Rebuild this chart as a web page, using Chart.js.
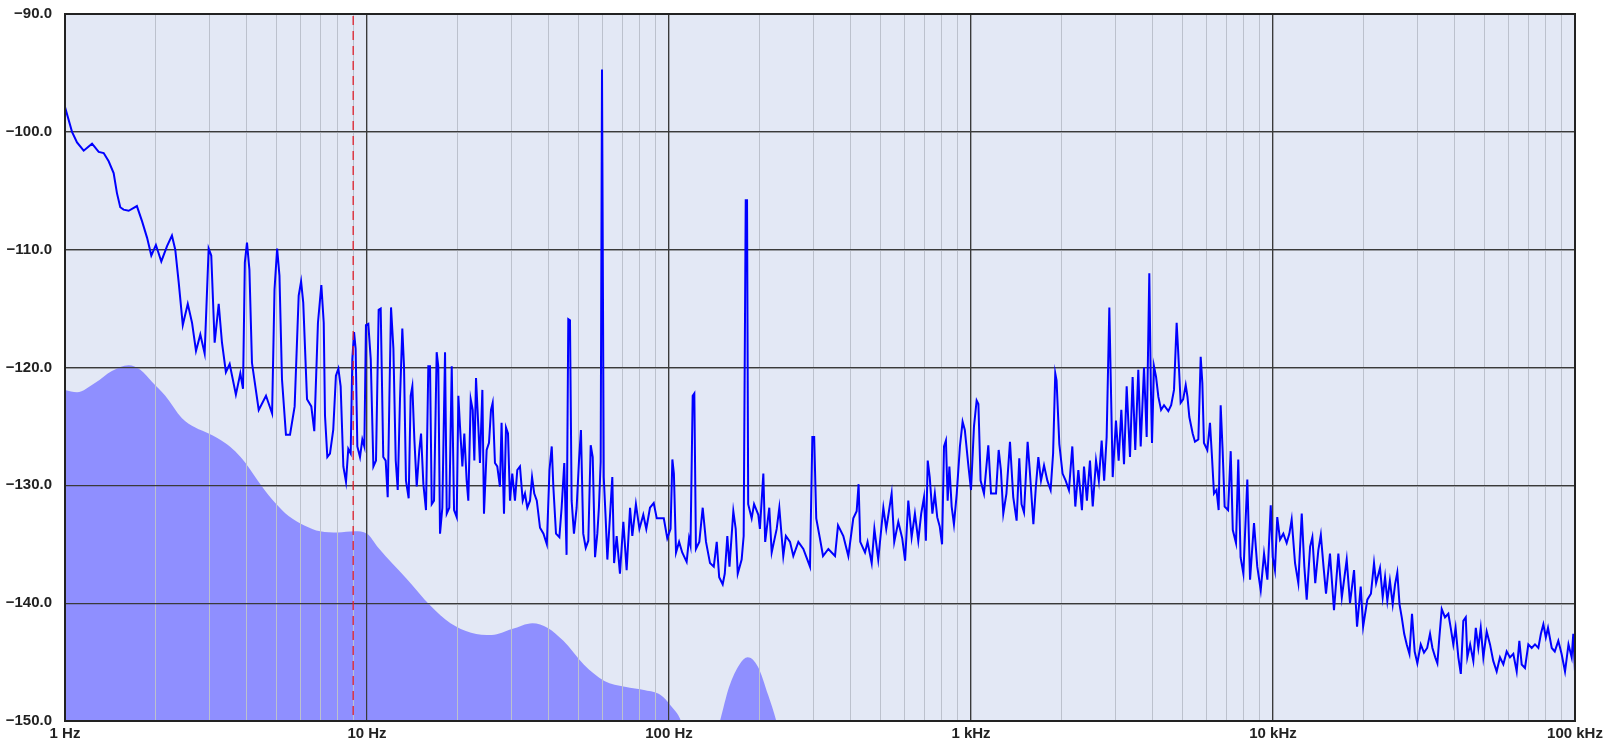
<!DOCTYPE html>
<html><head><meta charset="utf-8">
<script src="https://cdn.jsdelivr.net/npm/chart.js@4.4.1/dist/chart.umd.min.js"></script>
<style>html,body{margin:0;padding:0;background:#fff}#wrap{width:1606px;height:751px;position:relative}</style>
</head><body><div id="wrap"><canvas id="c"></canvas></div>
<script>
// ---- data ----
const traceHz = [
  1.0, 1.055, 1.096, 1.153, 1.229, 1.293, 1.343, 1.395, 1.449, 1.486,
  1.524, 1.563, 1.625, 1.73, 1.80, 1.87, 1.931, 2.0, 2.084, 2.177,
  2.26, 2.318, 2.38, 2.455, 2.55, 2.634, 2.715, 2.806, 2.90, 2.99,
  3.05, 3.13, 3.228, 3.31, 3.41, 3.51, 3.68, 3.807, 3.885, 3.94,
  4.005, 4.08, 4.16, 4.38, 4.63, 4.85, 4.94, 5.04, 5.13, 5.23,
  5.39, 5.56, 5.76, 5.94, 6.05, 6.15, 6.33, 6.54, 6.69, 6.88,
  7.06, 7.19, 7.26, 7.39, 7.54, 7.73, 7.89, 8.04, 8.18, 8.35,
  8.52, 8.67, 8.83, 8.94, 9.06, 9.17, 9.29, 9.48, 9.65, 9.80,
  9.92, 10.1, 10.29, 10.5, 10.71, 10.93, 11.1, 11.32, 11.53, 11.71,
  11.86, 12.01, 12.23, 12.45, 12.64, 12.86, 13.09, 13.26, 13.46, 13.74,
  13.95, 14.13, 14.35, 14.61, 14.9, 15.1, 15.37, 15.68, 15.96, 16.17,
  16.38, 16.67, 17.01, 17.22, 17.45, 17.76, 18.13, 18.37, 18.73, 19.08,
  19.42, 19.82, 20.07, 20.32, 20.69, 21.0, 21.38, 21.65, 22.05, 22.39,
  22.67, 22.96, 23.37, 23.66, 24.1, 24.4, 24.9, 25.35, 25.74, 26.07,
  26.53, 27.0, 27.55, 27.9, 28.42, 28.86, 29.3, 29.75, 30.27, 30.9,
  31.45, 32.1, 32.78, 33.35, 33.95, 34.66, 35.2, 35.8, 36.5, 37.4,
  38.4, 39.4, 40.2, 40.9, 41.4, 42.25, 43.35, 44.1, 45.0, 45.8,
  46.4, 47.0, 47.6, 48.45, 49.45, 50.35, 51.1, 52.0, 53.0, 54.05,
  55.05, 55.9, 56.9, 57.9, 58.6, 59.4, 60.0, 60.8, 61.7, 62.5,
  63.7, 64.9, 65.8, 67.1, 68.8, 70.6, 72.4, 74.3, 75.6, 77.7,
  79.8, 82.2, 84.1, 86.5, 89.0, 91.1, 93.9, 96.1, 98.7, 101.2,
  102.6, 103.8, 105.5, 108.0, 110.6, 114.4, 116.5, 117.8, 119.8, 121.3,
  122.8, 126.0, 129.3, 132.6, 136.7, 140.7, 143.9, 146.6, 150.6, 153.0,
  156.0, 158.6, 163.3, 166.3, 168.9, 174.0, 176.7, 179.5, 181.3, 182.9,
  187.8, 191.3, 197.6, 200, 205.3, 208.2, 214.8, 218.8, 227.3, 231.9,
  239, 243.8, 251.6, 258, 268.1, 278.5, 293.0, 298.3, 302.5, 307.3,
  316, 323.6, 337, 354.6, 362.8, 377.8, 392.5, 407.6, 418.2, 424.4,
  429.8, 445.7, 454.5, 469, 478.7, 493, 512.6, 524, 546, 557,
  574.5, 592, 605, 620, 636, 652, 669, 684, 699, 709,
  719, 730, 745, 759, 773, 788, 802, 814, 826, 837,
  848, 863, 878, 897, 919, 938, 954, 979, 1000, 1023,
  1044, 1058, 1076, 1104, 1141, 1165, 1210, 1235, 1256, 1279,
  1310, 1346, 1380, 1416, 1445, 1470, 1498, 1540, 1565, 1609,
  1640, 1671, 1705, 1745, 1790, 1835, 1870, 1901, 1920, 1961,
  2010, 2058, 2110, 2165, 2215, 2267, 2330, 2367, 2420, 2477,
  2530, 2594, 2650, 2708, 2760, 2813, 2871, 2946, 3020, 3083,
  3146, 3211, 3277, 3361, 3429, 3499, 3581, 3647, 3740, 3817,
  3894, 3940, 3975, 4036, 4100, 4173, 4260, 4356, 4502, 4600,
  4701, 4797, 4850, 4946, 5040, 5140, 5210, 5284, 5420, 5516,
  5660, 5762, 5835, 5907, 6060, 6185, 6280, 6377, 6500, 6607,
  6710, 6810, 6917, 7100, 7244, 7360, 7543, 7674, 7810, 7978,
  8222, 8395, 8652, 8870, 9107, 9340, 9581, 9829, 9980, 10150,
  10330, 10550, 10820, 11100, 11330, 11530, 11830, 12130, 12450, 12700,
  12930, 13270, 13500, 13800, 14130, 14400, 14700, 14980, 15440, 15920,
  16460, 16900, 17540, 17990, 18550, 18980, 19520, 19880, 20530, 21100,
  21600, 21950, 22610, 23080, 23500, 23910, 24380, 24910, 25360, 25800,
  26240, 26690, 27190, 27720, 28300, 28860, 29450, 30060, 30850, 31620,
  32400, 33110, 33720, 34450, 35020, 35550, 36200, 37120, 38070, 38770,
  39540, 40240, 41090, 41870, 42680, 43480, 44000, 44950, 46060, 46940,
  47850, 48740, 49710, 51000, 52310, 53620, 55040, 56440, 57900, 59400,
  60920, 62480, 64110, 65420, 66600, 68300, 70060, 71880, 73710, 75620,
  77100, 78570, 80050, 81400, 83750, 85700, 88050, 90260, 92670, 95150,
  97500, 98700, 100000
];
const traceDb = [
  -97.9, -100.0, -100.9, -101.6, -101.0, -101.7, -101.8, -102.5, -103.5, -105.2,
  -106.4, -106.6, -106.7, -106.3, -107.6, -109.0, -110.5, -109.6, -111.0, -109.7,
  -108.8, -110.0, -112.8, -116.4, -114.6, -116.2, -118.6, -117.2, -118.8, -109.9,
  -110.5, -117.9, -114.6, -117.9, -120.4, -119.7, -122.3, -120.5, -121.8, -111.1,
  -109.4, -111.7, -119.6, -123.6, -122.4, -123.9, -113.4, -109.9, -112.2, -121.0,
  -125.7, -125.7, -123.3, -113.9, -112.7, -114.5, -122.7, -123.3, -125.4, -116.2,
  -113.0, -116.2, -124.1, -127.6, -127.3, -125.3, -120.7, -120.1, -121.6, -128.4,
  -129.7, -126.9, -127.3, -119.3, -117.0, -118.4, -126.7, -127.6, -126.1, -126.7,
  -116.4, -116.3, -119.3, -128.4, -127.9, -115.1, -115.0, -127.6, -127.9, -131.0,
  -122.7, -114.9, -118.4, -127.9, -130.4, -122.7, -116.7, -119.9, -129.6, -131.1,
  -122.4, -121.6, -126.1, -130.1, -127.0, -125.6, -129.9, -132.1, -119.9, -119.9,
  -131.6, -131.3, -118.7, -119.9, -134.1, -131.9, -118.7, -132.4, -131.9, -119.9,
  -132.1, -132.7, -122.4, -125.0, -128.4, -125.6, -129.6, -131.3, -122.7, -123.6,
  -127.9, -120.9, -125.0, -128.1, -121.9, -132.4, -127.0, -126.4, -123.6, -123.0,
  -128.1, -128.4, -130.1, -124.7, -132.4, -125.1, -125.6, -131.3, -129.0, -131.3,
  -128.7, -128.4, -131.3, -130.7, -131.9, -131.3, -129.3, -130.7, -131.3, -133.6,
  -134.1, -135.0, -128.7, -126.7, -130.1, -134.1, -134.4, -131.9, -128.1, -135.9,
  -115.9, -116.0, -131.3, -134.1, -131.9, -127.9, -125.3, -134.1, -135.3, -134.7,
  -126.6, -127.6, -136.1, -134.1, -131.9, -128.0, -94.7, -129.3, -132.8, -136.3,
  -132.8, -129.3, -136.6, -134.3, -137.5, -133.1, -137.2, -131.9, -134.3, -131.6,
  -133.7, -132.5, -133.7, -131.9, -131.5, -132.8, -132.8, -132.8, -134.5, -133.7,
  -127.8, -129.0, -135.7, -134.8, -135.7, -136.5, -134.5, -135.1, -122.4, -122.2,
  -135.4, -134.8, -131.9, -134.8, -136.6, -136.9, -134.8, -137.8, -138.4, -137.5,
  -134.3, -136.9, -132.2, -133.7, -137.5, -136.3, -134.3, -105.8, -105.8, -131.6,
  -132.8, -131.6, -132.5, -133.7, -129.0, -134.8, -131.9, -135.7, -133.7, -131.9,
  -136.0, -134.3, -134.8, -136.0, -134.8, -135.4, -136.9, -125.9, -125.9, -132.8,
  -134.5, -136.0, -135.4, -136.0, -133.4, -134.3, -136.0, -132.8, -132.2, -129.9,
  -134.8, -135.7, -134.8, -136.6, -133.7, -136.3, -131.9, -133.7, -130.7, -134.8,
  -133.1, -134.5, -136.4, -131.3, -134.4, -132.4, -134.7, -132.4, -131.0, -134.7,
  -127.9, -129.3, -132.4, -130.7, -132.7, -133.5, -135.0, -126.7, -126.2, -131.3,
  -128.4, -131.8, -133.3, -130.7, -126.7, -124.6, -125.3, -128.2, -130.4, -125.0,
  -122.8, -123.1, -129.6, -130.7, -126.6, -130.7, -130.7, -127.0, -128.7, -132.4,
  -130.7, -126.3, -131.0, -133.0, -127.7, -131.6, -132.3, -126.3, -128.7, -133.3,
  -130.1, -127.6, -129.6, -128.3, -129.6, -130.4, -127.3, -120.5, -121.1, -126.5,
  -129.0, -129.6, -130.4, -126.7, -131.8, -128.7, -132.1, -128.4, -131.3, -127.9,
  -131.8, -127.9, -129.6, -126.2, -129.6, -125.9, -114.9, -129.3, -124.5, -127.9,
  -123.6, -128.2, -121.6, -127.6, -120.8, -127.0, -120.2, -126.7, -120.0, -125.9,
  -112.0, -121.5, -126.4, -119.9, -120.8, -122.5, -123.6, -123.2, -123.7, -123.2,
  -121.9, -116.2, -118.5, -123.0, -122.7, -121.5, -122.5, -124.2, -125.6, -126.3,
  -126.1, -119.1, -121.3, -126.4, -127.0, -124.7, -127.6, -130.7, -130.4, -132.1,
  -123.2, -127.0, -131.8, -132.1, -127.1, -133.8, -134.9, -127.8, -136.1, -137.5,
  -129.5, -138.0, -133.2, -136.9, -138.9, -135.8, -138.0, -131.7, -136.1, -137.2,
  -132.7, -134.6, -134.1, -134.9, -134.1, -132.9, -136.6, -138.3, -132.4, -136.9,
  -139.7, -135.2, -134.4, -138.3, -135.5, -134.2, -136.9, -139.2, -135.8, -140.6,
  -135.8, -139.5, -136.3, -140.0, -137.2, -142.0, -138.6, -142.0, -139.7, -139.2,
  -136.6, -138.3, -137.0, -139.5, -137.8, -139.8, -138.1, -140.1, -138.4, -137.4,
  -140.1, -141.2, -142.6, -143.5, -144.3, -140.9, -144.1, -145.1, -143.5, -144.2,
  -143.8, -142.6, -143.8, -144.6, -145.1, -142.9, -140.5, -141.2, -140.9, -142.1,
  -143.5, -142.1, -144.6, -146.0, -141.5, -141.2, -144.6, -143.5, -144.9, -142.1,
  -143.8, -142.1, -144.6, -142.4, -143.5, -144.9, -145.8, -144.6, -145.2, -144.1,
  -144.6, -144.3, -145.8, -143.2, -145.2, -145.5, -143.5, -143.8, -143.5, -143.8,
  -142.6, -141.8, -142.9, -142.1, -143.8, -144.1, -143.2, -144.3, -145.8, -143.5,
  -144.6, -142.6, -145.8
];
const floorHz = [
  1.0, 1.096, 1.26, 1.43, 1.625, 1.776, 1.94, 2.148, 2.44, 2.70,
  2.99, 3.39, 3.66, 3.96, 4.49, 4.97, 5.5, 6.2, 7.0, 8.0,
  9.1, 10.0, 10.9, 12.2, 13.5, 16.2, 18.9, 22.1, 25.9, 30.2,
  35.3, 39.7, 44.7, 52.2, 61.1, 71.4, 83.4, 93.8, 101.4, 109.6,
  115, 140, 147.5, 158.2, 171.2, 182.2, 197, 213, 226.6, 240, 100000
];
const floorDb = [
  -121.9, -122.1, -121.3, -120.3, -119.8, -120.2, -121.2, -122.4, -124.3, -125.1,
  -125.6, -126.4, -127.1, -128.1, -130.1, -131.5, -132.6, -133.4, -133.9, -134.0,
  -133.9, -134.1, -135.3, -136.7, -137.9, -140.2, -141.7, -142.5, -142.7, -142.2,
  -141.7, -142.1, -143.2, -145.2, -146.6, -147.1, -147.4, -147.8, -148.7, -150.0,
  -152, -152, -150.0, -147.1, -145.2, -144.6, -145.4, -147.8, -150.0, -153, -153
];
const markerHz = 9;
const yTickValues = [-90, -100, -110, -120, -130, -140, -150];
const xDecadeHz = [1, 10, 100, 1000, 10000, 100000];
const xDecadeLabels = ['1 Hz', '10 Hz', '100 Hz', '1 kHz', '10 kHz', '100 kHz'];
const xMinorSteps = [2, 3, 4, 5, 6, 7, 8, 9];

// ---- build ----
const toPoints = (xs, ys) => xs.map((x, i) => ({ x, y: ys[i] }));
const xTickValues = [];
xDecadeHz.forEach((d, i) => {
  xTickValues.push(d);
  if (i < xDecadeHz.length - 1) xMinorSteps.forEach(m => xTickValues.push(d * m));
});

const MAJOR = '#3a3a3a', MINOR = '#bcc1cd';

const decor = {
  id: 'decor',
  beforeDraw(chart) {
    const { ctx, chartArea: a } = chart;
    ctx.save();
    ctx.fillStyle = '#e3e8f5';
    ctx.fillRect(a.left, a.top, a.right - a.left, a.bottom - a.top);
    ctx.restore();
  },
  beforeDatasetDraw(chart, args) {
    if (args.index !== 0) return;
    chart.scales.x.drawGrid(chart.chartArea);
    chart.scales.y.drawGrid(chart.chartArea);
  },
  afterDatasetsDraw(chart) {
    const { ctx, chartArea: a, scales: { x } } = chart;
    const px = x.getPixelForValue(markerHz);
    ctx.save();
    ctx.strokeStyle = '#e0202c';
    ctx.lineWidth = 1.3;
    ctx.setLineDash([9, 6]);
    ctx.beginPath(); ctx.moveTo(px, a.top + 2); ctx.lineTo(px, a.bottom); ctx.stroke();
    ctx.setLineDash([]);
    ctx.strokeStyle = '#222';
    ctx.lineWidth = 2;
    ctx.strokeRect(a.left, a.top, a.right - a.left, a.bottom - a.top);
    ctx.restore();
  }
};

Chart.defaults.font.family = '"Liberation Sans", Arial, sans-serif';

new Chart(document.getElementById('c'), {
  type: 'line',
  data: {
    datasets: [
      {
        label: 'spectrum',
        data: toPoints(traceHz, traceDb),
        borderColor: '#0000ff',
        borderWidth: 2,
        pointRadius: 0,
        tension: 0,
        fill: false,
        order: 0
      },
      {
        label: 'floor',
        data: toPoints(floorHz, floorDb),
        borderWidth: 0,
        borderColor: 'rgba(0,0,0,0)',
        backgroundColor: '#8f8fff',
        pointRadius: 0,
        cubicInterpolationMode: 'monotone',
        fill: 'start',
        order: 1
      }
    ]
  },
  options: {
    responsive: true,
    maintainAspectRatio: false,
    animation: false,
    events: [],
    layout: { padding: { left: 0, right: 31, top: 14, bottom: 0 } },
    plugins: { legend: { display: false }, tooltip: { enabled: false } },
    scales: {
      x: {
        type: 'logarithmic',
        min: 1,
        max: 100000,
        afterBuildTicks: s => { s.ticks = xTickValues.map(v => ({ value: v })); },
        afterFit: s => { s.height = 30; s.paddingLeft = 0; s.paddingRight = 0; },
        border: { display: false },
        grid: {
          drawTicks: false,
          color: c => xDecadeHz.includes(c.tick.value) ? MAJOR : MINOR,
          lineWidth: c => xDecadeHz.includes(c.tick.value) ? 1.2 : 1
        },
        ticks: {
          autoSkip: false,
          maxRotation: 0,
          padding: 4,
          color: '#222',
          font: { size: 15, weight: 'bold' },
          callback: v => { const i = xDecadeHz.indexOf(v); return i >= 0 ? xDecadeLabels[i] : ''; }
        }
      },
      y: {
        min: -150,
        max: -90,
        afterBuildTicks: s => { s.ticks = yTickValues.map(v => ({ value: v })); },
        afterFit: s => { s.width = 65; s.paddingTop = 0; s.paddingBottom = 0; },
        border: { display: false },
        grid: { drawTicks: false, color: MAJOR, lineWidth: 1.2 },
        ticks: {
          padding: 13,
          color: '#222',
          font: { size: 15, weight: 'bold' },
          callback: v => '\u2212' + Math.abs(v).toFixed(1)
        }
      }
    }
  },
  plugins: [decor]
});
</script>
</body></html>
